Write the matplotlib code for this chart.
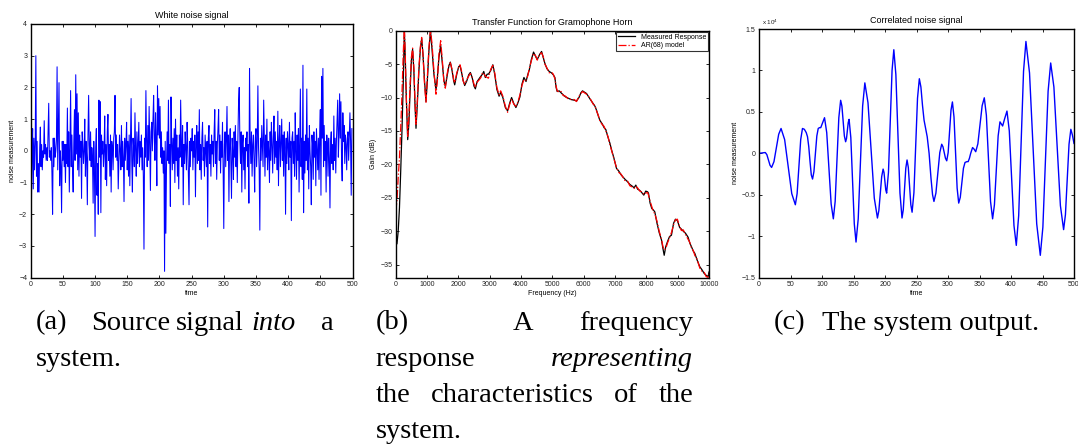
import matplotlib
matplotlib.use("Agg")
import matplotlib.pyplot as plt
import numpy as np

plt.rcParams['font.family'] = ['Liberation Sans', 'DejaVu Sans']
plt.rcParams['mathtext.default'] = 'regular'

# (a) white noise, one value per time step
white_noise = [
    0.1, -1.9, -0.2, 0.7, -1.2, 0.4, -0.6, 0.2, 3.0, -0.8, 0.3, -1.3, -0.4, -1.3, 0.1, 0.75, -0.5, 0.2, -0.6, 0.0, -0.2, 0.95, -0.1, 0.2, -0.3,
    0.1, -0.3, 0.6, 1.5, -0.2, 0.0, -0.3, 0.1, -0.7, -2.0, 0.4, -0.5, 0.4, -0.2, 0.0, 0.35, 2.65, -0.6, 0.9, 2.15, -1.1, 0.0, -0.5, -1.95, 0.3,
    -0.3, 0.3, -0.5, 0.2, -1.0, 0.2, -0.4, 1.35, -0.5, 0.6, -1.3, 0.1, 1.9, -0.5, 0.5, -0.6, -1.3, 0.3, 1.3, -0.3, 2.4, -0.1, 1.8, -0.6, 1.2,
    -0.8, 0.5, -0.2, 0.3, -1.5, 0.6, 0.2, -0.4, 0.0, 1.0, -0.8, 0.3, -0.2, -1.7, 0.5, 1.75, 0.2, -0.3, 0.6, -0.5, 0.1, -0.2, -1.65, 0.3, -0.5,
    -2.7, 0.1, 0.7, -1.4, -0.4, -2.0, 1.6, -0.2, 1.55, -1.95, 0.5, -0.1, 0.3, -0.5, 0.0, 1.1, -0.9, 0.2, -1.1, 0.6, 1.15, -0.3, 0.2, -0.8, 0.5,
    -1.3, 0.3, 0.1, -0.6, 0.4, 0.6, 1.75, -0.2, 0.5, -0.3, 0.2, -1.2, -0.4, 0.5, 0.0, -0.6, 0.8, -0.5, 0.3, -0.2, -1.6, 0.4, -0.3, 0.2, 0.9,
    -0.6, 0.3, -0.8, 0.5, -1.1, 0.2, 1.65, -0.3, -1.3, 0.4, 0.1, -0.5, 1.2, 0.0, -0.8, 0.6, -0.4, 0.2, 0.9, -0.5, 0.3, -0.2, 0.5, -0.6, 0.1,
    -0.8, -3.1, 0.4, -0.2, 1.9, 0.3, -0.5, 0.8, -0.3, 1.4, 0.2, -1.25, 0.6, 0.9, 0.0, 1.0, 1.75, 0.4, -0.3, 1.2, 0.3, -1.1, 2.05, 0.5, 1.65,
    0.4, 1.4, -0.2, 0.6, -0.4, 0.1, -0.7, 0.0, -3.8, 0.3, -2.6, -0.5, 0.6, -0.3, 1.6, -0.4, 0.2, -1.75, 1.7, 0.3, -0.6, 0.4, -0.4, 0.7, -1.0,
    1.0, -0.3, 0.5, -0.8, 0.1, -1.2, 0.5, -0.2, 1.6, 0.3, -0.5, 0.8, -1.7, 0.2, -0.4, 0.6, 0.1, -0.6, 0.9, 0.2, -0.7, -1.7, 0.3, -0.5, 0.4,
    0.0, 0.7, -0.6, 0.3, -0.2, 0.5, -1.45, 0.2, 0.8, -0.4, 0.6, -0.3, 1.3, -0.6, 0.2, -0.9, 0.4, 0.9, -0.3, 0.1, -0.8, 0.5, 0.0, -0.5, 0.3,
    -2.4, 0.4, 0.8, -0.4, 0.2, -0.8, 0.5, -0.1, 0.3, -0.5, 0.6, 1.3, -0.4, 0.3, -0.9, 0.2, 0.7, 1.3, -0.3, 0.5, -0.7, 0.3, -0.2, 0.9, -0.6,
    -2.45, 0.2, 0.6, -0.5, 0.3, 1.4, -0.3, 0.5, -1.6, 0.2, 0.7, -0.4, -1.5, 0.4, 0.0, -0.9, 0.6, -0.2, 0.8, -0.5, 0.3, -1.0, 0.5, 1.55, 2.0,
    0.3, -0.4, 0.6, -1.3, 0.2, 0.5, -0.6, 0.1, -1.2, 0.4, 0.0, 0.6, -0.5, 0.2, -1.65, 2.6, 0.3, -0.4, 0.6, -0.8, 0.2, 0.5, -0.3, -1.3, 0.4,
    0.7, -0.5, 0.3, 2.05, 0.1, -0.6, -2.5, 0.4, -0.3, 0.8, 0.2, -0.5, 1.6, 0.3, -0.8, 0.5, -0.2, 1.0, -0.6, 0.3, 0.0, -1.0, 0.6, -0.3, 0.9,
    0.2, -0.7, 0.4, 1.1, -0.4, 0.6, -0.2, 0.3, -0.6, 1.25, -1.1, 0.3, 0.8, -0.5, 0.2, 1.0, -0.3, 0.5, -0.8, 0.6, 0.1, -2.0, 0.4, -0.4, 0.6,
    0.2, -0.6, 0.9, -0.2, 0.3, -2.2, 0.4, 0.6, -0.4, 0.3, -0.8, 1.2, 0.0, -0.9, 0.5, -0.3, 0.7, -1.3, 0.3, 1.95, -0.5, 0.4, -0.9, 2.7, -1.95,
    0.3, -0.7, 0.5, -0.3, 1.95, -0.6, 0.4, -1.2, 0.8, 0.0, -0.5, -1.7, 0.5, 0.2, -0.9, 0.6, -0.2, 0.3, -1.1, 0.7, 0.1, -0.6, 0.4, -0.9, 0.5,
    1.3, -1.4, 2.35, 0.4, 2.6, -0.5, 0.8, -0.3, 0.3, -1.3, 0.5, 0.2, -0.8, 0.4, -0.2, -1.8, 0.3, 0.6, -0.4, 0.2, -0.6, 1.1, -0.3, 0.4, -0.7,
    0.3, 0.9, 1.6, -0.2, 0.5, 1.8, 0.4, 1.55, -0.3, -0.95, 1.2, 0.3, 0.8, -0.4, 0.5, 0.2, -0.6, 0.4, 0.6, -0.3, 0.5, 1.2, 0.3, -1.4, 0.7,
]

# (b) transfer function: frequency (Hz), measured gain and AR(68) model gain (dB)
freq = [0, 40, 80, 120, 160, 200, 240, 276, 305, 335, 383, 420, 460, 500, 540, 580, 615, 648, 690, 740,
        790, 829, 870, 920, 967, 1010, 1060, 1110, 1160, 1220, 1286, 1330, 1380, 1435, 1490, 1540, 1584, 1640, 1700, 1744,
        1800, 1850, 1883, 1950, 2010, 2053, 2100, 2150, 2202, 2270, 2330, 2383, 2440, 2500, 2543, 2600, 2658, 2720, 2770, 2810,
        2860, 2920, 2960, 3030, 3100, 3160, 3230, 3300, 3350, 3420, 3500, 3572, 3640, 3699, 3770, 3837, 3900, 3965, 4030, 4093,
        4160, 4220, 4262, 4330, 4400, 4460, 4518, 4590, 4656, 4710, 4762, 4830, 4900, 4970, 5030, 5081, 5120, 5155, 5220, 5280,
        5347, 5420, 5506, 5600, 5700, 5772, 5850, 5910, 5963, 6030, 6091, 6200, 6304, 6360, 6410, 6470, 6516, 6600, 6650, 6707,
        6780, 6835, 6900, 6962, 7048, 7120, 7200, 7313, 7400, 7473, 7560, 7610, 7664, 7720, 7792, 7850, 7919, 7980, 8040, 8068,
        8120, 8174, 8220, 8270, 8340, 8410, 8483, 8530, 8570, 8620, 8680, 8740, 8801, 8870, 8929, 8990, 9060, 9120, 9180, 9250,
        9333, 9390, 9439, 9500, 9546, 9620, 9705, 9780, 9843, 9910, 9971, 10000]
gain_measured = [-31.0, -31.9, -30.0, -26.5, -21.0, -15.0, -8.0, 0.0, -4.0, -9.5, -16.3, -14.0, -9.0, -4.5, -2.8, -6.0, -11.0, -14.6, -11.0, -6.0,
                 -2.5, -1.2, -3.5, -7.5, -10.6, -7.5, -3.0, 0.0, -2.8, -6.5, -8.85, -7.0, -4.0, -2.2, -5.0, -7.5, -8.35, -6.8, -5.2, -4.7,
                 -6.0, -7.5, -8.1, -6.5, -5.4, -5.2, -6.2, -7.4, -8.2, -7.5, -6.6, -6.25, -7.0, -8.3, -8.7, -7.6, -7.2, -6.8, -6.5, -6.1,
                 -7.0, -6.5, -6.5, -6.0, -5.1, -6.5, -8.8, -9.8, -9.2, -10.0, -11.5, -12.0, -10.8, -10.0, -10.9, -11.5, -10.8, -9.9, -8.0, -7.0,
                 -7.6, -6.5, -5.9, -4.3, -3.2, -3.8, -4.3, -3.6, -3.1, -4.0, -4.9, -5.7, -6.1, -6.3, -6.6, -7.0, -8.5, -9.1, -9.0, -9.3,
                 -9.6, -9.9, -10.1, -10.3, -10.4, -10.5, -10.0, -9.3, -9.0, -9.2, -9.4, -10.2, -10.9, -11.3, -11.9, -12.8, -13.4, -14.0, -14.5, -14.8,
                 -16.0, -16.8, -18.0, -19.0, -20.6, -21.0, -21.6, -22.2, -22.6, -23.0, -23.3, -23.5, -23.1, -23.7, -23.9, -24.2, -24.6, -24.0, -24.1, -24.3,
                 -25.8, -26.6, -26.8, -27.1, -28.8, -30.2, -31.3, -32.6, -33.6, -32.3, -31.5, -30.8, -30.6, -28.8, -28.2, -28.4, -29.4, -29.7, -30.0, -30.3,
                 -30.9, -31.8, -32.3, -33.0, -33.3, -34.3, -35.3, -35.8, -36.3, -36.6, -36.8, -36.1]
gain_model = [-27.0, -25.5, -22.0, -19.0, -14.5, -9.5, -3.5, 0.5, -3.5, -9.5, -15.8, -13.0, -8.0, -4.0, -2.6, -5.5, -10.5, -14.0, -10.5, -5.5,
              -2.3, -1.0, -3.5, -8.0, -10.7, -7.0, -2.5, 0.2, -2.0, -6.0, -9.5, -7.5, -3.5, -1.5, -4.5, -7.8, -8.6, -6.5, -5.0, -4.8,
              -5.8, -7.3, -7.8, -6.3, -5.5, -5.1, -6.0, -7.5, -8.0, -7.3, -6.8, -6.4, -7.0, -8.0, -8.5, -7.7, -7.4, -7.0, -6.3, -6.4,
              -6.8, -7.0, -7.1, -5.8, -5.2, -6.3, -8.5, -9.6, -9.0, -9.8, -11.3, -12.2, -11.0, -10.2, -11.0, -11.3, -10.7, -9.6, -8.2, -7.3,
              -7.4, -6.7, -5.7, -4.5, -3.4, -3.7, -4.4, -3.5, -3.3, -3.9, -5.0, -5.6, -6.3, -6.2, -6.5, -7.2, -8.3, -9.0, -9.2, -9.1,
              -9.7, -9.8, -10.2, -10.3, -10.3, -10.6, -9.8, -9.4, -9.1, -9.3, -9.5, -10.1, -11.0, -11.2, -12.0, -12.7, -13.5, -14.1, -14.3, -15.0,
              -15.9, -17.0, -18.1, -19.1, -20.5, -21.2, -21.5, -22.4, -22.5, -23.2, -23.4, -23.6, -23.3, -23.5, -24.0, -24.1, -24.5, -24.3, -24.2, -24.6,
              -25.5, -26.3, -27.0, -27.4, -28.5, -30.0, -31.2, -32.3, -32.8, -32.6, -31.7, -31.0, -30.2, -29.0, -28.3, -28.2, -29.3, -29.9, -29.8, -30.5,
              -31.2, -31.7, -32.5, -32.9, -33.6, -34.2, -35.5, -36.0, -36.1, -36.8, -36.9, -36.4]

# (c) correlated noise (x 10^4), read at the times below
corr_t = [0, 5, 10, 12.5, 15, 17.5, 20, 23.75, 27.5, 31.25, 35, 40.7, 46.3, 52, 57.7, 60.5, 63.3, 66.2, 69, 72,
          75, 77, 79, 81, 83, 85, 87.2, 89.5, 91.8, 94, 96, 98, 101, 104, 107.5, 111, 114.5, 118, 120.9, 123.8,
          126.7, 129.6, 131.6, 133.5, 135.5, 137.5, 138.9, 140.2, 141.6, 143, 145.75, 148.5, 151.25, 154, 157.5, 161, 164.5, 168, 173, 178,
          183, 188, 190.25, 192.5, 194.75, 197, 198.4, 199.8, 201.2, 202.6, 205.5, 208.3, 211.2, 214, 217.25, 220.5, 223.75, 227, 229, 231,
          233, 235, 237, 239, 241, 243, 245.9, 248.75, 251.6, 254.5, 257, 259.5, 262, 264.5, 267, 270, 273, 275.5, 277.7, 280.8,
          283.9, 287, 290, 292, 294, 296, 298, 300.25, 302.5, 304.75, 307, 309.5, 312, 314.5, 317, 319.5, 322, 324.5, 327, 330,
          332, 334, 336, 339, 341.5, 344, 347.4, 350.8, 354.2, 357.6, 360.9, 364.2, 367.5, 370.8, 373.7, 376.6, 379.6, 382.5, 384.6, 386.7,
          390, 393.6, 397.3, 401, 404.7, 408.4, 412.2, 416, 419.9, 423.7, 429.4, 435.1, 440.8, 446.5, 450.6, 454.75, 458.9, 463, 468.1, 473.25,
          478.4, 483.5, 486.4, 489.25, 492.1, 495, 497.5, 500]
corr_val = [0.0, 0.005, 0.01, -0.016, -0.08, -0.144, -0.17, -0.10, 0.065, 0.23, 0.30, 0.166, -0.16, -0.486, -0.62, -0.486, -0.16, 0.166, 0.30, 0.29,
            0.25, 0.20, 0.08, -0.10, -0.26, -0.31, -0.22, 0.0, 0.21, 0.30, 0.31, 0.31, 0.37, 0.43, 0.25, -0.18, -0.61, -0.79, -0.58, -0.075,
            0.43, 0.64, 0.57, 0.39, 0.21, 0.14, 0.18, 0.275, 0.37, 0.41, 0.19, -0.33, -0.85, -1.07, -0.79, -0.11, 0.57, 0.85, 0.61, 0.035,
            -0.54, -0.78, -0.69, -0.485, -0.28, -0.19, -0.23, -0.335, -0.44, -0.48, -0.23, 0.385, 1.0, 1.25, 0.95, 0.235, -0.48, -0.78, -0.68, -0.43,
            -0.18, -0.08, -0.17, -0.395, -0.62, -0.71, -0.475, 0.095, 0.665, 0.90, 0.80, 0.58, 0.40, 0.30, 0.20, 0.0, -0.30, -0.50, -0.58, -0.48,
            -0.235, 0.01, 0.11, 0.08, 0.01, -0.06, -0.09, 0.01, 0.265, 0.52, 0.62, 0.44, 0.01, -0.42, -0.60, -0.53, -0.355, -0.18, -0.11, -0.10,
            -0.10, -0.06, 0.0, 0.07, 0.05, 0.02, 0.115, 0.345, 0.575, 0.67, 0.46, -0.06, -0.58, -0.79, -0.62, -0.205, 0.21, 0.38, 0.355, 0.33,
            0.42, 0.51, 0.27, -0.30, -0.87, -1.11, -0.75, 0.12, 0.99, 1.35, 0.97, 0.06, -0.85, -1.23, -0.89, -0.07, 0.75, 1.09, 0.80, 0.085,
            -0.63, -0.92, -0.74, -0.315, 0.11, 0.29, 0.22, 0.12]

W, H = 1078, 448


def fmt(v, pos):
    return ('%g' % v).replace('-', '\u2212')


def style_axes(ax):
    ax.tick_params(direction='in', top=True, right=True, length=2.2, width=0.6,
                   labelsize=5, pad=2.5, colors='black', labelcolor='#222222')
    for s in ax.spines.values():
        s.set_linewidth(1.0)
    ax.xaxis.set_major_formatter(plt.FuncFormatter(fmt))
    ax.yaxis.set_major_formatter(plt.FuncFormatter(fmt))


def px_axes(fig, left, top, right, bottom):
    return fig.add_axes([left / W, 1 - bottom / H, (right - left) / W, (bottom - top) / H])


fig = plt.figure(figsize=(W / 100, H / 100), dpi=100)

# (a)
ax1 = px_axes(fig, 30.7, 24, 352.5, 277.7)
ax1.plot(np.arange(len(white_noise)), white_noise, color='#0000ff', lw=0.75)
ax1.set_xlim(0, 500)
ax1.set_ylim(-4, 4)
ax1.set_xticks(np.arange(0, 501, 50))
ax1.set_yticks(np.arange(-4, 5, 1))
ax1.set_title('White noise signal', fontsize=6.5, pad=4)
ax1.set_xlabel('time', fontsize=5, labelpad=1)
ax1.set_ylabel('noise measurement', fontsize=5, labelpad=2)
style_axes(ax1)

# (b)
ax2 = px_axes(fig, 395.7, 30.7, 709, 278)
ax2.plot(freq, gain_measured, color='black', lw=0.9, label='Measured Response')
ax2.plot(freq, gain_model, color='red', lw=0.9, ls='-.', label='AR(68) model')
ax2.set_xlim(0, 10000)
ax2.set_ylim(-37, 0)
ax2.set_xticks(np.arange(0, 10001, 1000))
ax2.set_yticks(np.arange(-35, 1, 5))
ax2.set_title('Transfer Function for Gramophone Horn', fontsize=6.5, pad=4)
ax2.set_xlabel('Frequency (Hz)', fontsize=5, labelpad=1)
ax2.set_ylabel('Gain (dB)', fontsize=5, labelpad=2)
leg = ax2.legend(loc='upper right', fontsize=5, frameon=True, fancybox=False,
                 borderaxespad=0.15, handlelength=2.4, borderpad=0.3, labelspacing=0.2)
leg.get_frame().set_edgecolor('black')
leg.get_frame().set_linewidth(0.8)
style_axes(ax2)

# (c)
ax3 = px_axes(fig, 759, 29, 1074, 277.7)
ax3.plot(corr_t, corr_val, color='#0000ff', lw=1.0)
ax3.set_xlim(0, 500)
ax3.set_ylim(-1.5, 1.5)
ax3.set_xticks(np.arange(0, 501, 50))
ax3.set_yticks(np.arange(-1.5, 1.6, 0.5))
ax3.set_title('Correlated noise signal', fontsize=6.5, pad=4)
ax3.set_xlabel('time', fontsize=5, labelpad=1)
ax3.set_ylabel('noise measurement', fontsize=5, labelpad=2)
ax3.text(0.01, 1.01, 'x 10$^4$', transform=ax3.transAxes, fontsize=4.5,
         color='#222222', va='bottom', ha='left')
style_axes(ax3)

# captions
serif = ['Liberation Serif', 'DejaVu Serif']
cap_size = 20.5
baselines = [329.5, 365.5, 401.5, 437.5]


def put(x, line, word, style='normal', ha='left'):
    return fig.text(x / W, 1 - baselines[line] / H, word, family=serif, fontsize=cap_size,
                    style=style, ha=ha, va='baseline')


put(36, 0, '(a)')
put(91.3, 0, 'Source')
put(176, 0, 'signal')
put(251, 0, 'into', 'italic')
put(334, 0, 'a', ha='right')
put(36, 1, 'system.')

put(375.4, 0, '(b)')
put(513, 0, 'A')
put(693, 0, 'frequency', ha='right')
put(375.4, 1, 'response')
put(693, 1, 'representing', 'italic', ha='right')
put(375.4, 3, 'system.')

# justified third line of (b)
words = ['the', 'characteristics', 'of', 'the']
renderer = fig.canvas.get_renderer()
items = [put(0, 2, w) for w in words]
widths = [t.get_window_extent(renderer).width for t in items]
gap = (693 - 375.4 - sum(widths)) / (len(words) - 1)
x = 375.4
for t, w in zip(items, widths):
    t.set_x(x / W)
    x += w + gap

put(774, 0, '(c)')
put(822.4, 0, 'The system output.')

fig.savefig('out.png', dpi=100)
